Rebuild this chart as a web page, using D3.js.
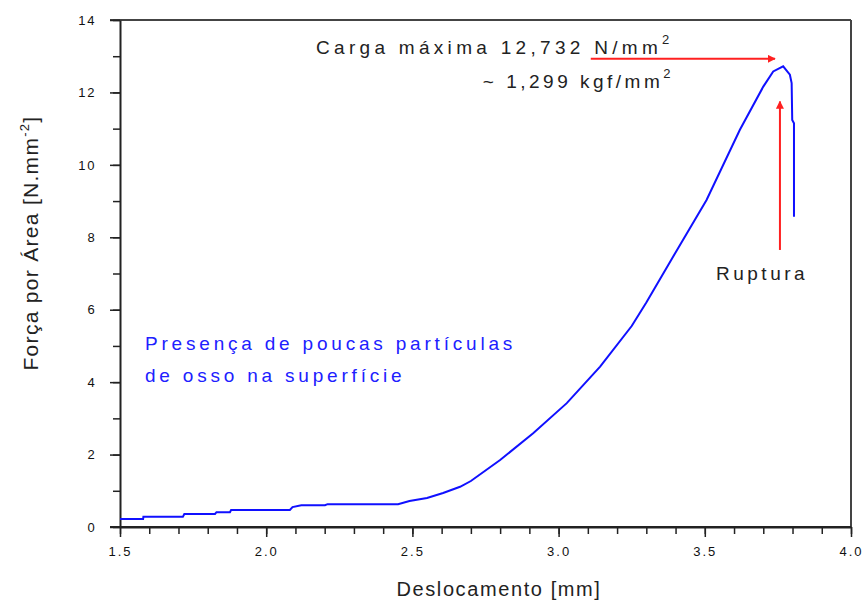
<!DOCTYPE html>
<html>
<head>
<meta charset="utf-8">
<script src="https://cdn.jsdelivr.net/npm/d3@7"></script>
<style>
  body { margin: 0; background: #fff; }
  text { font-family: "Liberation Sans", Arial, sans-serif; }
</style>
</head>
<body>
<div class="my-graph"></div>
<script>
// displacement [mm] and force per area [N/mm2]
const deslocamento = [1.5, 1.579, 1.58, 1.715, 1.72, 1.825, 1.83, 1.876, 1.88, 2.081, 2.09, 2.12, 2.201, 2.21, 2.451,
  2.49, 2.55, 2.605, 2.663, 2.70, 2.80, 2.913, 3.028, 3.142, 3.25, 3.30, 3.392, 3.506, 3.62, 3.70, 3.734, 3.768,
  3.791, 3.797, 3.799, 3.805, 3.805]
const forca = [0.22, 0.22, 0.28, 0.28, 0.36, 0.36, 0.41, 0.41, 0.47, 0.47, 0.55, 0.60, 0.60, 0.63, 0.63,
  0.72, 0.80, 0.94, 1.11, 1.27, 1.85, 2.59, 3.42, 4.43, 5.55, 6.2, 7.47, 9.03, 10.97, 12.16, 12.58, 12.72,
  12.49, 12.26, 11.24, 11.15, 8.57]

const xTicks = [1.5, 2.0, 2.5, 3.0, 3.5, 4.0]
const yTicks = [0, 2, 4, 6, 8, 10, 12, 14]

// annotation arrows in data units
const cargaArrow = { x1: 3.11, x2: 3.74, y: 12.93 }
const rupturaArrow = { x: 3.757, y1: 7.65, y2: 11.75 }

const dataset = deslocamento.map((x, i) => ({ x: x, y: forca[i] }))

const width = 868
const height = 601
const margin = { top: 20, right: 17, bottom: 74, left: 120 }

const xScale = d3.scaleLinear()
  .domain([1.5, 4.0])
  .range([margin.left, width - margin.right])

const yScale = d3.scaleLinear()
  .domain([0, 14])
  .range([height - margin.bottom, margin.top])

const svg = d3.select('.my-graph')
  .append('svg')
  .attr('width', width)
  .attr('height', height)

const axisColor = '#222'

// frame: top and right lines
svg.append('line')
  .attr('x1', margin.left - 10).attr('x2', width - margin.right)
  .attr('y1', margin.top).attr('y2', margin.top)
  .attr('stroke', '#444').attr('stroke-width', 2)
svg.append('line')
  .attr('x1', width - margin.right).attr('x2', width - margin.right)
  .attr('y1', margin.top).attr('y2', height - margin.bottom)
  .attr('stroke', '#444').attr('stroke-width', 2)

// minor ticks
svg.append('g')
  .attr('transform', `translate(0, ${height - margin.bottom})`)
  .call(d3.axisBottom(xScale).ticks(25).tickSize(7).tickFormat(''))
  .call(g => g.select('.domain').remove())
svg.append('g')
  .attr('transform', `translate(${margin.left}, 0)`)
  .call(d3.axisLeft(yScale).ticks(14).tickSize(7).tickFormat(''))
  .call(g => g.select('.domain').remove())

// major ticks with labels
const xAxis = svg.append('g')
  .attr('class', 'x axis')
  .attr('transform', `translate(0, ${height - margin.bottom})`)
  .call(d3.axisBottom(xScale).tickValues(xTicks).tickSize(10).tickSizeOuter(0).tickFormat(d3.format('.1f')))
xAxis.selectAll('text').attr('dy', '1.25em')

const yAxis = svg.append('g')
  .attr('class', 'y axis')
  .attr('transform', `translate(${margin.left}, 0)`)
  .call(d3.axisLeft(yScale).tickValues(yTicks).tickSize(10).tickSizeOuter(0).tickFormat(d3.format('d')))
yAxis.selectAll('text').attr('dx', '-0.8em')

svg.selectAll('.axis text')
  .attr('font-size', 13)
  .attr('letter-spacing', 2)
  .attr('fill', '#111')
svg.selectAll('.tick line').attr('stroke', axisColor).attr('stroke-width', 1.5)
svg.selectAll('.domain').attr('stroke', axisColor).attr('stroke-width', 2)

// extend axis lines to the left like the original plot
svg.append('line')
  .attr('x1', margin.left - 10).attr('x2', width - margin.right)
  .attr('y1', height - margin.bottom).attr('y2', height - margin.bottom)
  .attr('stroke', axisColor).attr('stroke-width', 2)

// axis titles
svg.append('text')
  .attr('x', 499).attr('y', 596)
  .attr('text-anchor', 'middle')
  .attr('font-size', 20)
  .attr('letter-spacing', 1.6)
  .attr('fill', '#222')
  .text('Deslocamento  [mm]')

const yTitle = svg.append('text')
  .attr('transform', 'translate(38, 243) rotate(-90)')
  .attr('text-anchor', 'middle')
  .attr('font-size', 21)
  .attr('letter-spacing', 1.3)
  .attr('fill', '#222')
yTitle.append('tspan').text('Força por Área [N.mm')
yTitle.append('tspan').attr('font-size', 13).attr('dy', -9).text('-2')
yTitle.append('tspan').attr('dy', 9).text(']')

// curve
const line = d3.line()
  .x(d => xScale(d.x))
  .y(d => yScale(d.y))

svg.append('path')
  .datum(dataset)
  .attr('class', 'line')
  .attr('fill', 'none')
  .attr('stroke', '#1010ff')
  .attr('stroke-width', 2)
  .attr('d', line)

// red arrows
svg.append('defs').append('marker')
  .attr('id', 'head')
  .attr('viewBox', '0 0 10 10')
  .attr('refX', 9).attr('refY', 5)
  .attr('markerWidth', 4).attr('markerHeight', 4)
  .attr('orient', 'auto')
  .append('path')
  .attr('d', 'M0,0L10,5L0,10z')
  .attr('fill', '#ff2020')

svg.append('line')
  .attr('x1', xScale(cargaArrow.x1)).attr('x2', xScale(cargaArrow.x2))
  .attr('y1', yScale(cargaArrow.y)).attr('y2', yScale(cargaArrow.y))
  .attr('stroke', '#ff2020').attr('stroke-width', 2)
  .attr('marker-end', 'url(#head)')

svg.append('line')
  .attr('x1', xScale(rupturaArrow.x)).attr('x2', xScale(rupturaArrow.x))
  .attr('y1', yScale(rupturaArrow.y1)).attr('y2', yScale(rupturaArrow.y2))
  .attr('stroke', '#ff2020').attr('stroke-width', 2)
  .attr('marker-end', 'url(#head)')

// annotations
const carga = svg.append('text')
  .attr('x', 316).attr('y', 54)
  .attr('font-size', 19)
  .attr('letter-spacing', 4.3)
  .attr('fill', '#222')
carga.append('tspan').text('Carga máxima 12,732 N/mm')
carga.append('tspan').attr('font-size', 13).attr('dy', -10).text('2')

const kgf = svg.append('text')
  .attr('x', 674).attr('y', 88)
  .attr('text-anchor', 'end')
  .attr('font-size', 19)
  .attr('letter-spacing', 3.5)
  .attr('fill', '#222')
kgf.append('tspan').text('~ 1,299 kgf/mm')
kgf.append('tspan').attr('font-size', 13).attr('dy', -10).text('2')

svg.append('text')
  .attr('x', 716).attr('y', 280)
  .attr('font-size', 19)
  .attr('letter-spacing', 3.5)
  .attr('fill', '#222')
  .text('Ruptura')

svg.append('text')
  .attr('x', 145).attr('y', 350)
  .attr('font-size', 19)
  .attr('letter-spacing', 3.8)
  .attr('fill', '#2020ff')
  .text('Presença de poucas partículas')

svg.append('text')
  .attr('x', 145).attr('y', 382)
  .attr('font-size', 19)
  .attr('letter-spacing', 3.8)
  .attr('fill', '#2020ff')
  .text('de osso na superfície')
</script>
</body>
</html>
